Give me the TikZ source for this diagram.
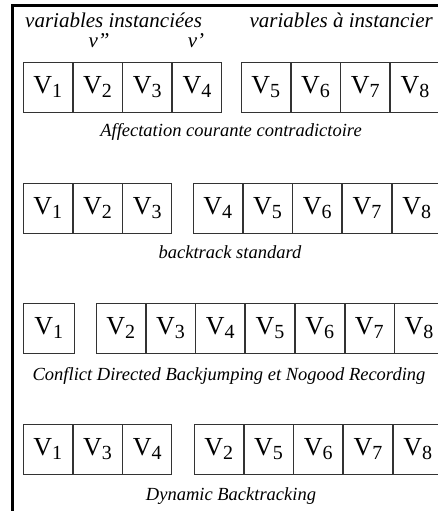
\documentclass[tikz,border=0pt]{standalone}
\usepackage{fontspec}
\setmainfont{Liberation Serif}
\newcommand\vv[1]{{\fontsize{26}{26}\selectfont V\raisebox{-4pt}{\fontsize{20}{20}\selectfont #1}}}
\begin{document}
\begin{tikzpicture}[x=1pt,y=-1pt,
  cell/.style={draw=black!80,line width=0.7pt,minimum width=49pt,minimum height=50pt,inner sep=0pt,anchor=west},
  lbl/.style={font=\fontsize{21}{21}\selectfont\itshape,inner sep=0pt},
  captext/.style={font=\fontsize{18.5}{18.5}\selectfont\itshape,inner sep=0pt,anchor=base}]
\useasboundingbox (0,0) rectangle (438,511);
\draw[line width=3pt] (12,511) -- (12,6) -- (440,6);
% labels
\node[lbl,anchor=base west] (li) at (25,28) {variables instanciées};
\node[lbl,anchor=base east] (la) at (433,28) {variables à instancier};
% row 1
\node[cell] (a1) at (23,87) {\vv1};
\node[cell] (a2) at (a1.east) {\vv2};
\node[cell] (a3) at (a2.east) {\vv3};
\node[cell] (a4) at (a3.east) {\vv4};
\node[cell] (a5) at (241,87) {\vv5};
\node[cell] (a6) at (a5.east) {\vv6};
\node[cell] (a7) at (a6.east) {\vv7};
\node[cell] (a8) at (a7.east) {\vv8};
\node[lbl,anchor=base] (vpp) at (99,48) {v''};
\node[lbl,anchor=base] (vp) at (196,48) {v'};
\node[captext] (c1) at (231,136) {Affectation courante contradictoire};
% row 2
\node[cell] (b1) at (23,208) {\vv1};
\node[cell] (b2) at (b1.east) {\vv2};
\node[cell] (b3) at (b2.east) {\vv3};
\node[cell] (b4) at (193,208) {\vv4};
\node[cell] (b5) at (b4.east) {\vv5};
\node[cell] (b6) at (b5.east) {\vv6};
\node[cell] (b7) at (b6.east) {\vv7};
\node[cell] (b8) at (b7.east) {\vv8};
\node[captext] (c2) at (230,258) {backtrack standard};
% row 3
\node[cell,minimum width=51pt] (d1) at (23,328) {\vv1};
\node[cell] (d2) at (96,328) {\vv2};
\node[cell] (d3) at (d2.east) {\vv3};
\node[cell] (d4) at (d3.east) {\vv4};
\node[cell] (d5) at (d4.east) {\vv5};
\node[cell] (d6) at (d5.east) {\vv6};
\node[cell] (d7) at (d6.east) {\vv7};
\node[cell] (d8) at (d7.east) {\vv8};
\node[captext] (c3) at (229,380) {Conflict Directed Backjumping et Nogood Recording};
% row 4
\node[cell] (e1) at (23,449) {\vv1};
\node[cell] (e2) at (e1.east) {\vv3};
\node[cell] (e3) at (e2.east) {\vv4};
\node[cell] (e4) at (194,449) {\vv2};
\node[cell] (e5) at (e4.east) {\vv5};
\node[cell] (e6) at (e5.east) {\vv6};
\node[cell] (e7) at (e6.east) {\vv7};
\node[cell] (e8) at (e7.east) {\vv8};
\node[captext] (c4) at (231,500) {Dynamic Backtracking};
\end{tikzpicture}
\end{document}
